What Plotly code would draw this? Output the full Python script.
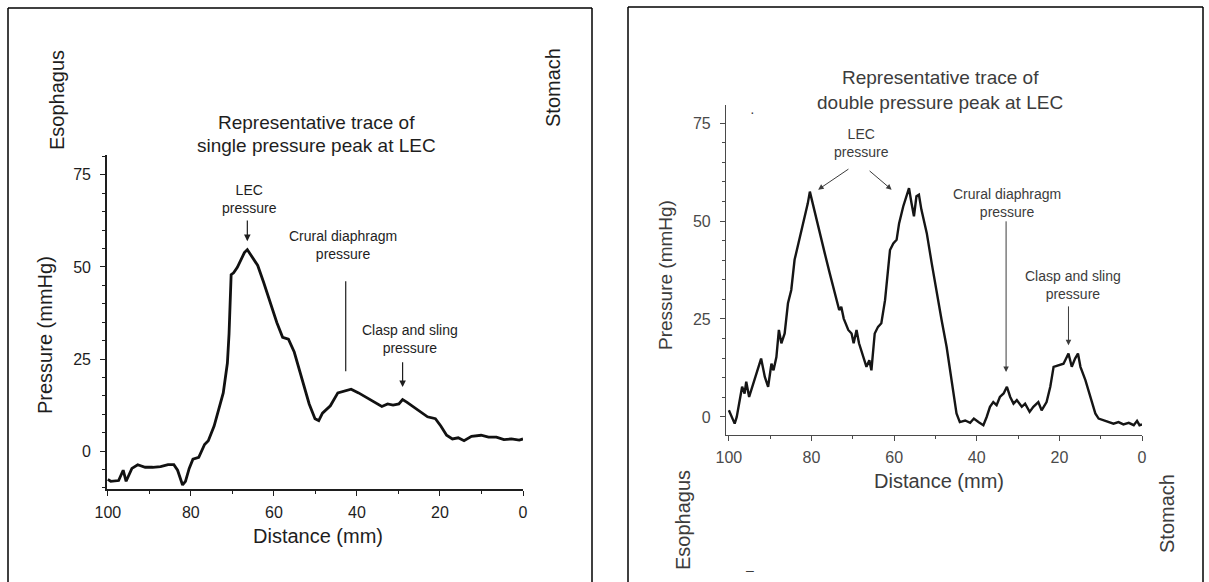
import plotly.graph_objects as go

W, H = 1209, 582

# ---------------- data ----------------
single_x = [100, 99.3, 97.4, 96.3, 95.6, 94.2, 92.8, 91, 89.2, 87.3, 85.5, 84.1, 83.2, 82, 81.3,
            80.4, 79.5, 78.1, 76.7, 75.8, 74.4, 73.1, 72.2, 71.2, 70.8, 70.3, 69.7, 68.8, 68,
            67.1, 66.4, 65.3, 63.9, 62.5, 60.7, 59.3, 57.9, 56.5, 55.1, 53.3, 51.5, 50.1, 49.2,
            48.3, 46.4, 44.6, 43.2, 41.4, 39.6, 37.7, 35.9, 34, 32.6, 31.3, 29.9, 29, 28, 26.7,
            24.8, 23, 21.1, 19.8, 18.4, 17, 15.6, 14.2, 12.4, 10.1, 8.3, 6.4, 4.6, 2.8, 0.9, 0]
single_y = [-7.7, -8.2, -8, -5.2, -8.2, -4.7, -3.7, -4.4, -4.4, -4.2, -3.7, -3.7, -5.2, -9.2, -8.2,
            -4.7, -2.2, -1.7, 1.8, 2.8, 6.8, 11.8, 15.8, 23.9, 31.9, 47.9, 48.4, 49.9, 51.9,
            53.9, 54.7, 52.9, 50.4, 45.9, 39.9, 34.9, 30.9, 30.4, 26.9, 19.9, 12.8, 8.8, 8.3,
            10.3, 12.3, 15.8, 16.3, 16.8, 15.8, 14.6, 13.3, 12.1, 12.8, 12.5, 12.8, 14, 13.3, 12.3,
            10.8, 9.3, 8.8, 6.8, 4.3, 3.3, 3.6, 2.8, 4, 4.3, 3.8, 3.8, 3.1, 3.3, 3, 3.3]

double_x = [100, 99.4, 98.6, 98.1, 97.4, 96.8, 96.2, 95.8, 95.1, 94.6, 93.8, 93, 92.2, 91.3, 90.5,
            89.7, 89.2, 88.5, 87.9, 87.3, 86.5, 85.7, 84.9, 84.1, 82.9, 81.6, 80.9, 80.4, 79.2,
            78, 76.8, 75.6, 74.4, 73.3, 72.8, 72.2, 71.1, 70.3, 69.8, 69.1, 68.5, 67.5, 66.7, 66,
            65.5, 64.7, 63.9, 63.1, 62.2, 61, 60.2, 59.4, 58.8, 57.8, 57, 56.4, 55.8, 55.2, 54.6,
            54, 53.4, 52.1, 50.9, 49.7, 48.5, 47.3, 46.1, 44.9, 44.1, 42.8, 41.6, 40.7, 39.6, 38.4,
            37.6, 36.8, 36, 35.2, 34.4, 33.5, 32.7, 31.9, 31.1, 30.3, 29.1, 28.3, 27.2, 26.3, 25.1,
            24.3, 23.1, 22.2, 21.4, 20.2, 19, 18.2, 17.8, 17, 16.2, 15.5, 14.9, 13.7, 12.5, 11.3,
            10.5, 9.3, 8.1, 6.9, 5.7, 4.5, 3.2, 2, 1.2, 0.6, 0]
double_y = [1.7, 0.4, -1.7, 0, 4.3, 7.7, 6, 9, 5.1, 6.8, 9.4, 11.9, 14.9, 10.2, 7.7,
            13.6, 11.9, 15.3, 22.2, 18.8, 21.3, 29, 32.4, 40.1, 45.2, 51.2, 54.5, 57.5, 52,
            46.9, 41.8, 36.7, 31.5, 27.3, 28.1, 25.1, 22.2, 21.3, 18.8, 22.2, 18.8, 15.3, 12.8, 14.5,
            11.9, 21.3, 23, 23.9, 29.8, 42.6, 44.3, 45.2, 49.4, 53.7, 56.3, 58.4, 54.6, 51.2, 56.3,
            56.7, 52.9, 46.9, 39.2, 31.5, 24.7, 17.9, 9.4, 0.9, -1.3, -0.9, -1.5, -0.4, -1.3, -2.1,
            0, 2.6, 3.8, 3, 5.1, 6, 7.7, 5.1, 3.4, 4.3, 2.6, 3.4, 1.3, 2.6, 3.8,
            1.7, 3.8, 7.7, 12.8, 13.2, 13.6, 15.3, 16.2, 12.8, 14.9, 16.2, 12.8, 9.4, 5.1, 0.9,
            -0.4, -0.9, -1.3, -1.7, -1.3, -1.9, -1.5, -2.1, -1, -2.1, -1.9]

x_ticks = [100, 80, 60, 40, 20, 0]
y_ticks = [0, 25, 50, 75]

# ---------------- helpers ----------------
def px(x):
    return x / W

def py(y):
    return 1 - y / H

FONT = "Liberation Sans, Arial, sans-serif"
DARK = "#1e1e1e"
GREY = "#3c3c3c"

fig = go.Figure()
fig.add_trace(go.Scatter(x=single_x, y=single_y, mode="lines",
                         line=dict(color="#111111", width=2.8), xaxis="x", yaxis="y",
                         showlegend=False, hoverinfo="skip"))
fig.add_trace(go.Scatter(x=double_x, y=double_y, mode="lines",
                         line=dict(color="#151515", width=2.4), xaxis="x2", yaxis="y2",
                         showlegend=False, hoverinfo="skip"))

def xax(domain, rng, color, lw):
    return dict(domain=domain, range=rng, tickvals=x_ticks, ticktext=[str(v) for v in x_ticks],
                showline=True, linecolor=color, linewidth=lw, ticks="outside", ticklen=5,
                tickcolor=color, tickwidth=1, showgrid=False, zeroline=False, automargin=False,
                tickfont=dict(family=FONT, size=16, color=color), ticklabelstandoff=3,
                minor=dict(dtick=10, tick0=0, ticks="outside", ticklen=3, tickcolor=color),
                fixedrange=True)

def yax(domain, rng, color, lw, anchor):
    return dict(domain=domain, range=rng, tickvals=y_ticks, ticktext=[str(v) for v in y_ticks],
                showline=True, linecolor=color, linewidth=lw, ticks="outside", ticklen=5,
                tickcolor=color, tickwidth=1, showgrid=False, zeroline=False, anchor=anchor,
                automargin=False,
                tickfont=dict(family=FONT, size=16, color=color), ticklabelstandoff=6,
                minor=dict(dtick=5, tick0=0, ticks="outside", ticklen=3, tickcolor=color),
                fixedrange=True)

fig.update_layout(
    width=W, height=H, margin=dict(l=0, r=0, t=0, b=0, autoexpand=False),
    paper_bgcolor="white", plot_bgcolor="white",
    xaxis=xax([px(107), px(523)], [100.2, 0], DARK, 1.6) | dict(anchor="y"),
    yaxis=yax([py(489), py(155)], [-10.3, 80.4], DARK, 1.6, "x"),
    xaxis2=xax([px(726), px(1142)], [100.7, 0], "#4a4a4a", 1.4) | dict(anchor="y2"),
    yaxis2=yax([py(435), py(105)], [-4.6, 79.6], "#4a4a4a", 1.2, "x2"),
)

ann = []

def text(x, y, s, size, color, angle=0, xref="paper", yref="paper"):
    ann.append(dict(x=x, y=y, xref=xref, yref=yref, text=s, showarrow=False,
                    textangle=angle, xanchor="center", yanchor="middle",
                    font=dict(family=FONT, size=size, color=color)))

def arrow(xr, yr, x, y, axv, ayv, color, head=2, width=1.2):
    ann.append(dict(x=x, y=y, ax=axv, ay=ayv, xref=xr, yref=yr, axref=xr, ayref=yr,
                    text="", showarrow=True, arrowhead=head, arrowsize=1.1,
                    arrowwidth=width, arrowcolor=color))

# ----- left panel text -----
text(px(317), py(122), "Representative trace of", 19, DARK)
text(px(317), py(145), "single pressure peak at LEC", 19, DARK)
text(px(57), py(100), "Esophagus", 20, DARK, -90)
text(px(553), py(88), "Stomach", 20, DARK, -90)
text(px(45), py(335), "Pressure (mmHg)", 20, DARK, -90)
text(px(318), py(536), "Distance (mm)", 20, DARK)

text(65.8, 68.5, "LEC<br>pressure", 14, DARK, xref="x", yref="y")
text(43.3, 56, "Crural diaphragm<br>pressure", 14, DARK, xref="x", yref="y")
text(27.2, 30.5, "Clasp and sling<br>pressure", 14, DARK, xref="x", yref="y")
arrow("x", "y", 66.4, 57, 66.4, 63, DARK)
arrow("x", "y", 42.7, 21.7, 42.7, 46.5, DARK, head=0)
arrow("x", "y", 29, 17.4, 29, 24.5, DARK)

# ----- right panel text -----
text(px(940), py(78), "Representative trace of", 19, GREY)
text(px(940), py(102), "double pressure peak at LEC", 19, GREY)
text(px(665), py(275), "Pressure (mmHg)", 19, GREY, -90)
text(px(939), py(481), "Distance (mm)", 20, GREY)
text(px(683), py(520), "Esophagus", 20, GREY, -90)
text(px(1167), py(514), "Stomach", 20, GREY, -90)
text(px(752), py(112), "·", 14, GREY)
text(px(750), py(570), "–", 14, GREY)

text(67.9, 70, "LEC<br>pressure", 14, GREY, xref="x2", yref="y2")
text(32.7, 54.7, "Crural diaphragm<br>pressure", 14, GREY, xref="x2", yref="y2")
text(16.6, 33.8, "Clasp and sling<br>pressure", 14, GREY, xref="x2", yref="y2")
arrow("x2", "y2", 78.4, 58, 70.7, 63.5, GREY, width=1)
arrow("x2", "y2", 60.6, 58, 66.3, 63.1, GREY, width=1)
arrow("x2", "y2", 32.9, 11.5, 32.9, 50.3, GREY, width=1)
arrow("x2", "y2", 17.8, 18.3, 17.8, 28.6, GREY, width=1)

fig.update_layout(annotations=ann)

# ----- panel frames -----
shapes = []
for (l, t, r) in [(8, 8, 592), (628, 7, 1203)]:
    shapes.append(dict(type="line", xref="paper", yref="paper", x0=px(l), x1=px(l), y0=py(t), y1=0,
                       line=dict(color="black", width=1.5)))
    shapes.append(dict(type="line", xref="paper", yref="paper", x0=px(l), x1=px(r), y0=py(t), y1=py(t),
                       line=dict(color="black", width=1.5)))
    shapes.append(dict(type="line", xref="paper", yref="paper", x0=px(r), x1=px(r), y0=py(t), y1=0,
                       line=dict(color="black", width=1.5)))
fig.update_layout(shapes=shapes)

fig.write_html("out.html", config={"displayModeBar": False},
               post_script="document.body.style.margin='0';document.body.style.overflow='hidden';")
